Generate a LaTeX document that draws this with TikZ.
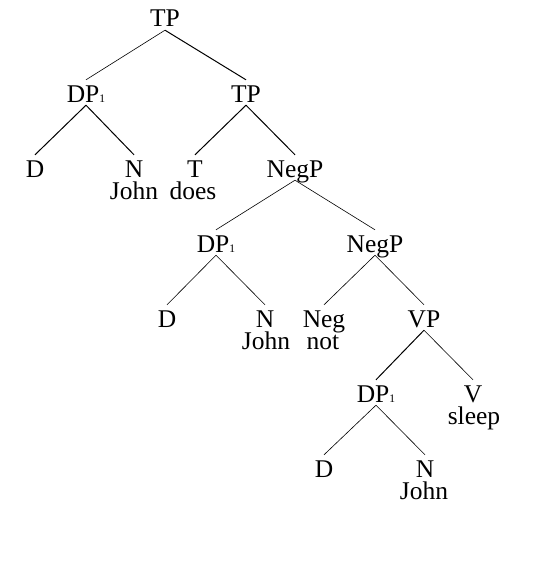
\documentclass[tikz,border=0pt]{standalone}
\usepackage{fontspec}
\setmainfont{Liberation Serif}
\begin{document}
\begin{tikzpicture}[x=1pt,y=-1pt,
  cat/.style={anchor=base,inner xsep=0pt,inner ysep=3pt,text height=19pt,text depth=0pt,
    font=\fontsize{25.5}{25.5}\selectfont},
  word/.style={anchor=base,inner sep=0pt,text height=14pt,text depth=0pt,
    font=\fontsize{25.5}{25.5}\selectfont},
  thin/.style={line width=0.6pt},
  thick/.style={line width=1pt}]
\newcommand{\idx}[1]{\raisebox{-0.5pt}{\fontsize{11.5}{11.5}\selectfont #1}}
\useasboundingbox (0,0) rectangle (559,570);
% top
\node[cat] (tp0) at (165,27) {TP};
\node[cat] (dpa) at (86,102) {DP\idx{1}};
\node[cat] (tp1) at (246,102) {TP};
% level 3
\node[cat] (da) at (35,177) {D};
\node[cat] (na) at (134,177) {N};
\node[cat] (t) at (195,177) {T};
\node[cat] (negp0) at (295,177) {NegP};
\node[word] (johna) at (134,199) {John};
\node[word] (does) at (193,199) {does};
% level 4
\node[cat] (dpb) at (216,252) {DP\idx{1}};
\node[cat] (negp1) at (375,252) {NegP};
% level 5
\node[cat] (db) at (167,327) {D};
\node[cat] (nb) at (265,327) {N};
\node[cat] (neg) at (324,327) {Neg};
\node[cat] (vp) at (424,327) {VP};
\node[word] (johnb) at (266,349) {John};
\node[word] (not) at (323,349) {not};
% level 6
\node[cat] (dpc) at (376,402) {DP\idx{1}};
\node[cat] (v) at (473,402) {V};
\node[word] (sleep) at (474,424) {sleep};
% level 7
\node[cat] (dc) at (324,477) {D};
\node[cat] (nc) at (425,477) {N};
\node[word] (johnc) at (424,499) {John};
% branches
\draw[thin] (tp0.south) -- (dpa.north);
\draw[thick] (tp0.south) -- (tp1.north);
\draw[thick] (dpa.south) -- (da.north);
\draw[thick] (dpa.south) -- (na.north);
\draw[thick] (tp1.south) -- (t.north);
\draw[thick] (tp1.south) -- (negp0.north);
\draw[thin] (negp0.south) -- (dpb.north);
\draw[thin] (negp0.south) -- (negp1.north);
\draw[thin] (dpb.south) -- (db.north);
\draw[thin] (dpb.south) -- (nb.north);
\draw[thin] (negp1.south) -- (neg.north);
\draw[thin] (negp1.south) -- (vp.north);
\draw[thick] (vp.south) -- (dpc.north);
\draw[thin] (vp.south) -- (v.north);
\draw[thin] (dpc.south) -- (dc.north);
\draw[thin] (dpc.south) -- (nc.north);
\end{tikzpicture}
\end{document}
